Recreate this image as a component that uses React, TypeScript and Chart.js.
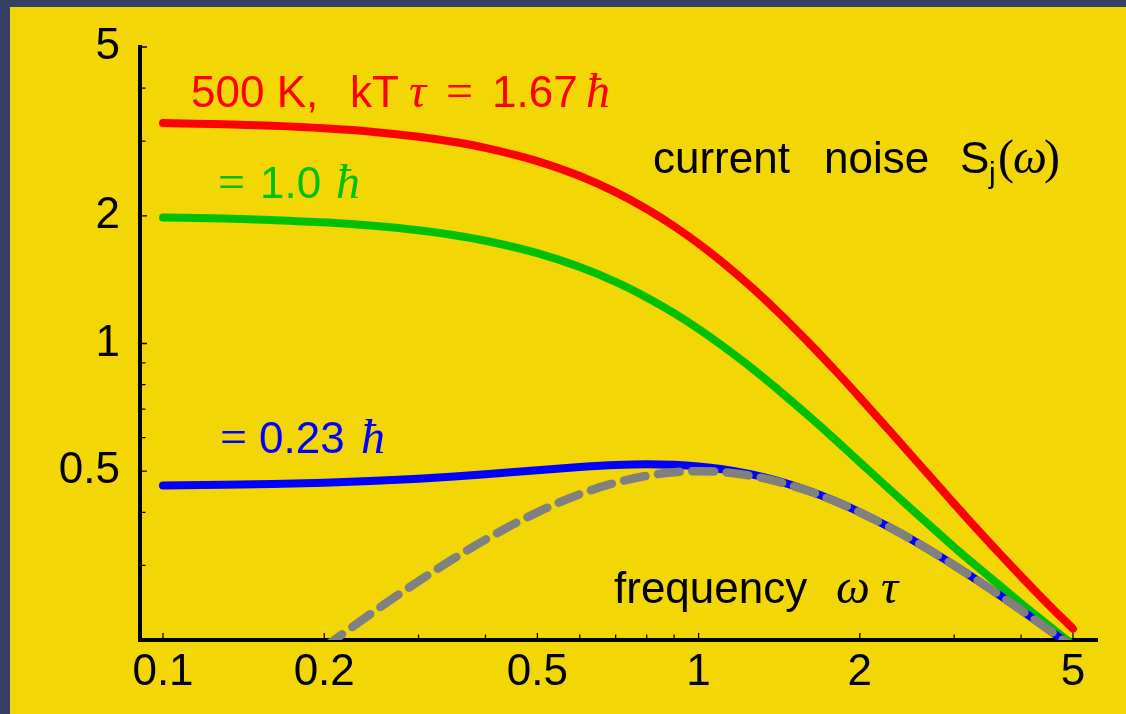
import React, { useEffect, useRef } from "react";
import { Chart, registerables } from "chart.js";

Chart.register(...registerables);

// frequency ω τ
const omega = [
  0.1, 0.13, 0.16, 0.2, 0.25, 0.3, 0.35, 0.4, 0.5, 0.6, 0.7, 0.8, 0.9, 1.0,
  1.1, 1.25, 1.4, 1.6, 1.8, 2.0, 2.3, 2.6, 3.0, 3.5, 4.0, 4.5, 5.0,
];
// kTτ = 1.67 ħ (500 K)
const noiseHot = [
  3.308, 3.286, 3.259, 3.215, 3.149, 3.072, 2.986, 2.893, 2.692, 2.482, 2.274,
  2.075, 1.890, 1.720, 1.566, 1.364, 1.194, 1.009, 0.863, 0.746, 0.612, 0.514,
  0.419, 0.338, 0.2825, 0.2424, 0.2126,
];
// kTτ = 1.0 ħ
const noiseMid = [
  1.982, 1.970, 1.954, 1.930, 1.892, 1.849, 1.800, 1.747, 1.633, 1.514, 1.397,
  1.284, 1.179, 1.082, 0.994, 0.880, 0.783, 0.677, 0.593, 0.525, 0.447, 0.389,
  0.331, 0.281, 0.244, 0.2165, 0.1949,
];
// kTτ = 0.23 ħ
const noiseCold = [
  0.4626, 0.4643, 0.4665, 0.4699, 0.4747, 0.4802, 0.486, 0.4918, 0.5027,
  0.5113, 0.5168, 0.5189, 0.5175, 0.5131, 0.5062, 0.4921, 0.4751, 0.4503,
  0.4249, 0.4001, 0.3657, 0.3351, 0.3, 0.2642, 0.2353, 0.2118, 0.1923,
];
// T = 0 (quantum) noise, dashed
const omegaQuantum = [
  0.2, 0.25, 0.3, 0.35, 0.4, 0.5, 0.6, 0.7, 0.8, 0.9, 1.0, 1.1, 1.25, 1.4, 1.6,
  1.8, 2.0, 2.3, 2.6, 3.0, 3.5, 4.0, 4.5, 5.0,
];
const noiseQuantum = [
  0.1923, 0.2353, 0.2752, 0.3118, 0.3448, 0.4, 0.4412, 0.4698, 0.4878, 0.4972,
  0.5, 0.4977, 0.4878, 0.473, 0.4494, 0.4245, 0.4, 0.3657, 0.3351, 0.3, 0.2642,
  0.2353, 0.2118, 0.1923,
];

const xTickValues = [0.1, 0.2, 0.5, 1, 2, 5];
const xMinorTicks = [0.3, 0.4, 0.6, 0.7, 0.8, 0.9, 3, 4];
const yTickValues = [0.5, 1, 2, 5];
const yMinorTicks = [0.3, 0.4, 0.6, 0.7, 0.8, 0.9, 3, 4];

const SANS = '"Liberation Sans", Arial, Helvetica, sans-serif';
const SERIF = '"Liberation Serif", "Times New Roman", serif';
const F_SANS = `44px ${SANS}`;
const F_SUB = `30px ${SANS}`;
const F_SERIF = `48px ${SERIF}`;
const F_ITAL = `italic 48px ${SERIF}`;

const RED = "#ff0000";
const GREEN = "#00c000";
const BLUE = "#0000ff";
const GRAY = "#808080";
const YELLOW = "#f3d605";
const FRAME = "#354063";

type TextItem = { text: string; x: number; y: number; font: string; color: string };

const annotations: TextItem[] = [
  { text: "500 K,", x: 191, y: 107, font: F_SANS, color: RED },
  { text: "kT", x: 350, y: 107, font: F_SANS, color: RED },
  { text: "\u03c4", x: 409, y: 107, font: F_ITAL, color: RED },
  { text: "=", x: 446, y: 107, font: F_SERIF, color: RED },
  { text: "1.67", x: 492, y: 107, font: F_SANS, color: RED },
  { text: "\u0127", x: 586, y: 107, font: F_ITAL, color: RED },

  { text: "=", x: 218, y: 198, font: F_SERIF, color: GREEN },
  { text: "1.0", x: 260, y: 198, font: F_SANS, color: GREEN },
  { text: "\u0127", x: 336, y: 198, font: F_ITAL, color: GREEN },

  { text: "=", x: 220, y: 453, font: F_SERIF, color: BLUE },
  { text: "0.23", x: 259, y: 453, font: F_SANS, color: BLUE },
  { text: "\u0127", x: 361, y: 453, font: F_ITAL, color: BLUE },

  { text: "current", x: 653, y: 173, font: F_SANS, color: "#000" },
  { text: "noise", x: 824, y: 173, font: F_SANS, color: "#000" },
  { text: "S", x: 960, y: 173, font: F_SANS, color: "#000" },
  { text: "j", x: 989, y: 183, font: F_SUB, color: "#000" },
  { text: "(", x: 998, y: 173, font: F_SERIF, color: "#000" },
  { text: "\u03c9", x: 1013, y: 173, font: F_ITAL, color: "#000" },
  { text: ")", x: 1044, y: 173, font: F_SERIF, color: "#000" },

  { text: "frequency", x: 614, y: 603, font: F_SANS, color: "#000" },
  { text: "\u03c9", x: 836, y: 603, font: F_ITAL, color: "#000" },
  { text: "\u03c4", x: 881, y: 603, font: F_ITAL, color: "#000" },
];

const backgroundPlugin = {
  id: "frameBackground",
  beforeDraw(chart: any) {
    const { ctx, width, height } = chart;
    ctx.save();
    ctx.fillStyle = FRAME;
    ctx.fillRect(0, 0, width, height);
    ctx.fillStyle = YELLOW;
    ctx.fillRect(10, 7, width - 10, height - 7);
    ctx.restore();
  },
};

const ticksPlugin = {
  id: "inwardTicks",
  afterDraw(chart: any) {
    const { ctx, chartArea, scales } = chart;
    ctx.save();
    ctx.strokeStyle = "#000";
    ctx.lineWidth = 1.3;
    ctx.beginPath();
    const b = chartArea.bottom;
    const l = chartArea.left;
    xTickValues.forEach((v) => {
      const p = scales.x.getPixelForValue(v);
      ctx.moveTo(p, b);
      ctx.lineTo(p, b - 7);
    });
    xMinorTicks.forEach((v) => {
      const p = scales.x.getPixelForValue(v);
      ctx.moveTo(p, b);
      ctx.lineTo(p, b - 5.5);
    });
    yTickValues.forEach((v) => {
      const p = scales.y.getPixelForValue(v);
      ctx.moveTo(l, p);
      ctx.lineTo(l + 7, p);
    });
    yMinorTicks.forEach((v) => {
      const p = scales.y.getPixelForValue(v);
      ctx.moveTo(l, p);
      ctx.lineTo(l + 5.5, p);
    });
    ctx.stroke();
    ctx.restore();
  },
};

const textPlugin = {
  id: "annotationsText",
  afterDraw(chart: any) {
    const ctx = chart.ctx;
    ctx.save();
    ctx.textAlign = "left";
    ctx.textBaseline = "alphabetic";
    annotations.forEach((a) => {
      ctx.font = a.font;
      ctx.fillStyle = a.color;
      ctx.fillText(a.text, a.x, a.y);
    });
    ctx.restore();
  },
};

function pairs(xs: number[], ys: number[]) {
  return xs.map((x, i) => ({ x, y: ys[i] }));
}

export default function App() {
  const ref = useRef<HTMLCanvasElement | null>(null);

  useEffect(() => {
    if (!ref.current) return;
    const common = {
      fill: false,
      pointRadius: 0,
      borderCapStyle: "round" as const,
      borderJoinStyle: "round" as const,
      cubicInterpolationMode: "monotone" as const,
      clip: 0,
    };
    const chart = new Chart(ref.current, {
      type: "line",
      data: {
        datasets: [
          {
            ...common,
            label: "T=0",
            data: pairs(omegaQuantum, noiseQuantum),
            borderColor: GRAY,
            borderWidth: 8.5,
            borderDash: [22, 12.5],
            order: 0,
          },
          {
            ...common,
            label: "0.23",
            data: pairs(omega, noiseCold),
            borderColor: BLUE,
            borderWidth: 8,
            order: 1,
          },
          {
            ...common,
            label: "1.0",
            data: pairs(omega, noiseMid),
            borderColor: GREEN,
            borderWidth: 8,
            order: 2,
          },
          {
            ...common,
            label: "1.67",
            data: pairs(omega, noiseHot),
            borderColor: RED,
            borderWidth: 8,
            order: 3,
          },
        ],
      },
      options: {
        animation: false,
        responsive: false,
        devicePixelRatio: 1,
        layout: { padding: { top: 47, right: 29, left: 0, bottom: 0 } },
        plugins: { legend: { display: false }, tooltip: { enabled: false } },
        scales: {
          x: {
            type: "logarithmic",
            min: 0.09059,
            max: 5.544,
            z: 1,
            grid: { display: false, drawTicks: false },
            border: { display: true, color: "#000", width: 4 },
            afterBuildTicks: (scale: any) => {
              scale.ticks = xTickValues.map((v) => ({ value: v }));
            },
            afterFit: (scale: any) => {
              scale.height = 74;
            },
            ticks: {
              autoSkip: false,
              maxRotation: 0,
              padding: 6,
              color: "#000",
              font: { family: SANS, size: 44 },
              callback: (v: any) => String(v),
            },
          },
          y: {
            type: "logarithmic",
            min: 0.2,
            max: 5,
            z: 1,
            grid: { display: false, drawTicks: false },
            border: { display: true, color: "#000", width: 4 },
            afterBuildTicks: (scale: any) => {
              scale.ticks = yTickValues.map((v) => ({ value: v }));
            },
            afterFit: (scale: any) => {
              scale.width = 140;
            },
            ticks: {
              autoSkip: false,
              padding: 20,
              color: "#000",
              font: { family: SANS, size: 44 },
              callback: (v: any) => String(v),
            },
          },
        },
      },
      plugins: [backgroundPlugin, ticksPlugin, textPlugin],
    } as any);
    return () => chart.destroy();
  }, []);

  return (
    <div style={{ position: "fixed", left: 0, top: 0, width: 1126, height: 714 }}>
      <canvas ref={ref} width={1126} height={714} style={{ display: "block", width: 1126, height: 714 }} />
    </div>
  );
}
